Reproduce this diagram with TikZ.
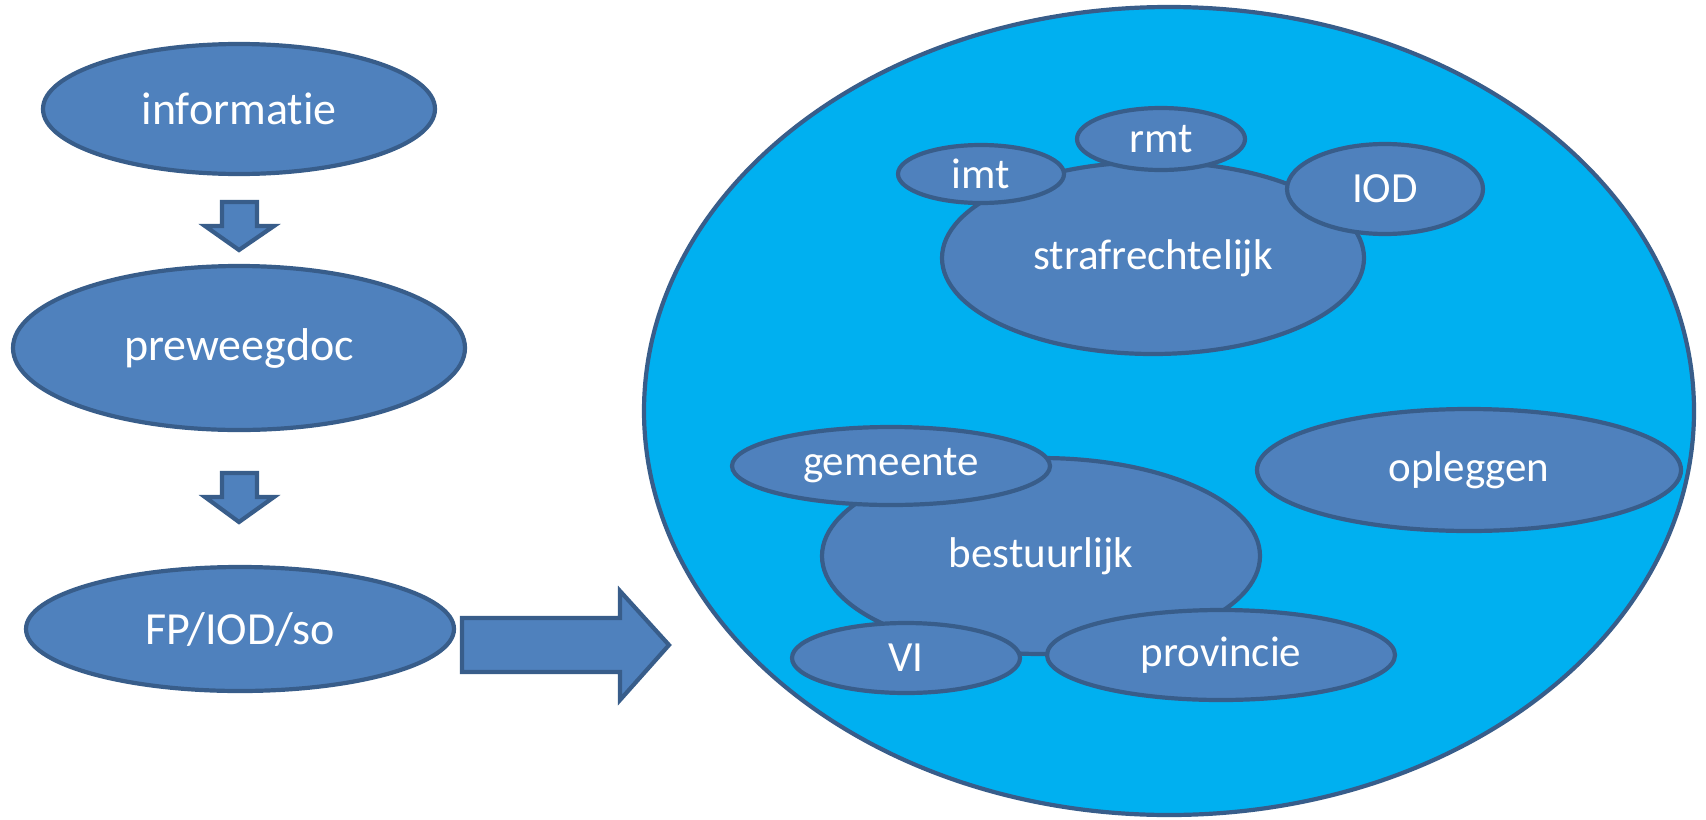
\documentclass[tikz,border=0pt]{standalone}
\usepackage{fontspec}
\setmainfont{Carlito}[Ligatures=NoCommon]
\usetikzlibrary{shapes.geometric}
\definecolor{boxfill}{HTML}{4F81BD}
\definecolor{boxline}{HTML}{385D8A}
\definecolor{bigfill}{HTML}{00B0F0}
\tikzset{
  ell/.style={ellipse, draw=boxline, fill=boxfill, line width=2.1pt, inner sep=0pt, text=white},
  outer/.style={ell, font=\fontsize{23}{27}\selectfont},
  inner/.style={ell, font=\fontsize{21.5}{25}\selectfont},
  blockarrow/.style={draw=boxline, fill=boxfill, line width=2.1pt, line join=miter},
}
\begin{document}
\begin{tikzpicture}[x=0.5pt,y=-0.5pt]
\useasboundingbox (0,0) rectangle (1706,819);
% left column
\node[outer, minimum width=196pt, minimum height=65pt] (info) at (239,109) {informatie};
\node[outer, minimum width=226pt, minimum height=82pt] (prew) at (239,348) {preweegdoc};
\node[outer, minimum width=214pt, minimum height=62pt] (fp) at (240,629) {FP/IOD/so};
% small down arrows
\draw[blockarrow] (222,202) -- (257,202) -- (257,226) -- (274,226) -- (239,250) -- (205,226) -- (222,226) -- cycle;
\draw[blockarrow] (222,473) -- (257,473) -- (257,497) -- (274,497) -- (239,522) -- (205,497) -- (222,497) -- cycle;
% big right arrow
\draw[blockarrow] (462,618) -- (620,618) -- (620,591) -- (669,645) -- (620,700) -- (620,672) -- (462,672) -- cycle;
% big ellipse
\node[ellipse, draw=boxline, fill=bigfill, line width=2.1pt, inner sep=0pt, minimum width=525pt, minimum height=404pt] (big) at (1169,411) {};
% strafrechtelijk group
\node[inner, minimum width=211pt, minimum height=96pt] (straf) at (1153,258) {strafrechtelijk};
\node[inner, minimum width=83pt, minimum height=29pt] (imt) at (981,174) {imt};
\node[inner, minimum width=84pt, minimum height=31pt] (rmt) at (1161,139) {rmt};
\node[inner, minimum width=98pt, minimum height=45pt] (iod) at (1385,189) {IOD};
% bestuurlijk group
\node[inner, minimum width=219pt, minimum height=98pt] (best) at (1041,556) {bestuurlijk};
\node[inner, minimum width=159pt, minimum height=39pt] (gem) at (891,466) {gemeente};
\node[inner, minimum width=114pt, minimum height=35pt] (vi) at (906,658) {VI};
\node[inner, minimum width=174pt, minimum height=45pt] (prov) at (1221,655) {provincie};
% opleggen
\node[inner, minimum width=212pt, minimum height=61pt] (opl) at (1469,470) {opleggen};
\end{tikzpicture}
\end{document}
